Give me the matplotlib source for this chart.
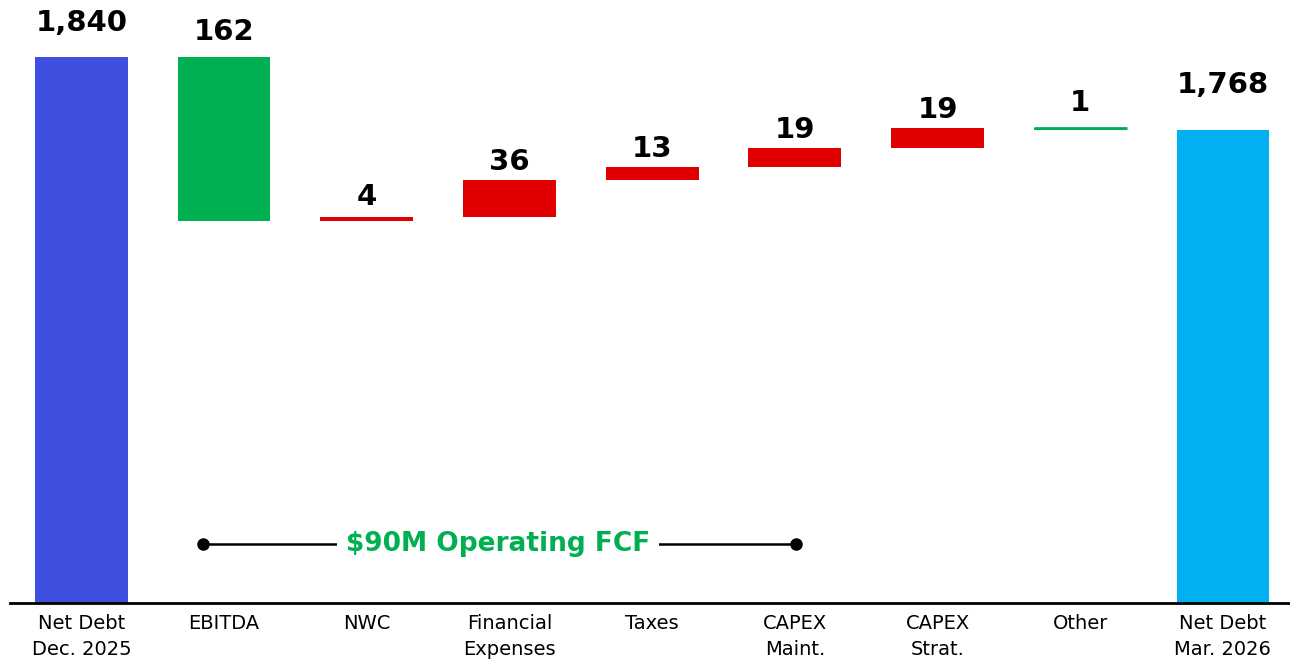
import numpy as np
import matplotlib
matplotlib.use("Agg")
import matplotlib.pyplot as plt

# dados do waterfall
categorias = ["Net Debt\nDec. 2025", "EBITDA", "NWC", "Financial\nExpenses", "Taxes",
              "CAPEX\nMaint.", "CAPEX\nStrat.", "Other", "Net Debt\nMar. 2026"]
variacoes = [1840, -162, 4, 36, 13, 19, 19, -1, 1768]
rotulos = ["1,840", "162", "4", "36", "13", "19", "19", "1", "1,768"]
cores = ["#3F4FE0", "#00B050", "#E00000", "#E00000", "#E00000",
         "#E00000", "#E00000", "#00B050", "#00B0F0"]
texto_fcf = "$90M Operating FCF"

base_y = 1300

# calcular base e altura de cada barra
inicio = []
altura = []
acum = 0
for i, v in enumerate(variacoes):
    if i == 0 or i == len(variacoes) - 1:
        inicio.append(base_y)
        altura.append(v - base_y)
        acum = v
    else:
        novo = acum + v
        inicio.append(min(acum, novo))
        altura.append(abs(v))
        acum = novo

fig = plt.figure(figsize=(12.9, 6.61), dpi=100)
ax = fig.add_axes([10 / 1290, 58 / 661, 1 - 10 / 1290, 603 / 661])

# deslocamento dos rotulos (pontos)
desloc = [14, 8, 4, 3, 3, 3, 3, 8, 22]

x = np.arange(len(categorias))
for i in range(len(x)):
    h = altura[i]
    ax.bar(x[i], h, bottom=inicio[i], width=0.65, color=cores[i],
           linewidth=0)
    if h < 2:
        ax.plot([x[i] - 0.325, x[i] + 0.325], [inicio[i] + h, inicio[i] + h],
                color=cores[i], lw=2, solid_capstyle="butt")
    topo = inicio[i] + h
    ax.annotate(rotulos[i], (x[i], topo), xytext=(0, desloc[i]), textcoords="offset points",
                ha="center", va="bottom", fontsize=21, fontweight="bold",
                family="DejaVu Sans")

# linha do FCF operacional
y_fcf = 1358
ax.plot([0.855, 5.01], [y_fcf, y_fcf], color="black", lw=1.8, marker="o", ms=8)
ax.text(2.92, y_fcf, texto_fcf, ha="center", va="center", fontsize=19,
        fontweight="bold", color="#00B050", family="DejaVu Sans",
        bbox=dict(facecolor="white", edgecolor="none", pad=6))

ax.set_xlim(-0.5, 8.47)
ax.set_ylim(base_y, 1896)
ax.set_xticks(x)
ax.set_xticklabels(categorias, fontsize=14, family="DejaVu Sans", linespacing=1.45)
ax.tick_params(axis="x", length=0, pad=8)
ax.set_yticks([])
for s in ["top", "right", "left"]:
    ax.spines[s].set_visible(False)
ax.spines["bottom"].set_linewidth(2)

fig.savefig("out.png", dpi=100)
